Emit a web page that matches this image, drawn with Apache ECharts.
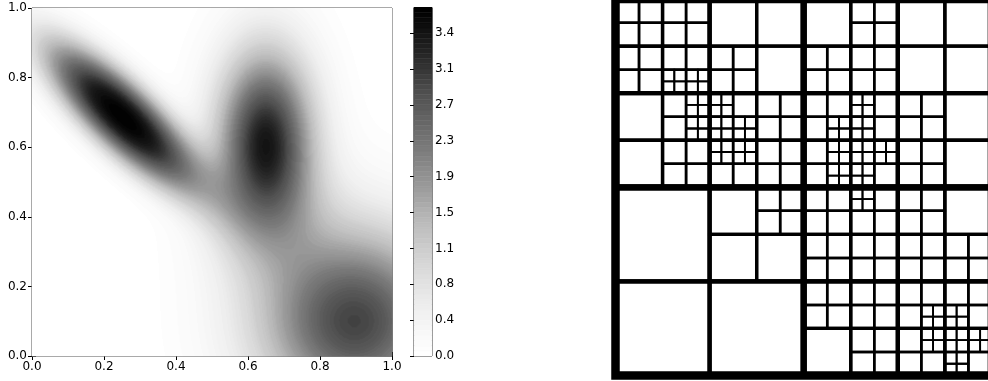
<!DOCTYPE html>
<html><head><meta charset="utf-8">
<script src="https://cdn.jsdelivr.net/npm/echarts@6/dist/echarts.min.js"></script>
<style>html,body{margin:0;padding:0;background:#fff;} #c{width:988px;height:381px;}</style>
</head><body><div id="c"></div>
<script>
// ---- density components (peak centre, height, spread, orientation, flatness) ----
const peakX        = [0.252, 0.650, 0.897, 0.650];
const peakY        = [0.688, 0.630, 0.100, 0.420];
const peakHeight   = [3.65, 3.20, 2.90, 0.55];
const sigmaMajor   = [0.220, 0.180, 0.190, 0.130];
const sigmaMinor   = [0.070, 0.095, 0.190, 0.130];
const majorAngle   = [-45, 90, 90, 0];
const peakFlatness = [1.25, 1.0, 1.0, 1.0];

// ---- contour levels / colorbar (matplotlib "Greys" colour stops) ----
const levelStep = 0.0546;
const levelCount = 68;
const greysStops = ['#ffffff','#f0f0f0','#d9d9d9','#bdbdbd','#969696','#737373','#525252','#252525','#000000'];
const cbTickEvery = 7;
const cbTickLabels = ['0.0','0.4','0.8','1.1','1.5','1.9','2.3','2.7','3.1','3.4'];
const axisTickLabels = ['0.0','0.2','0.4','0.6','0.8','1.0'];

// ---- quadtree: split nodes per level, [column, row-from-top] ----
const splitLevel0 = [[0,0]];
const splitLevel1 = [[0,0],[1,0],[0,1],[1,1]];
const splitLevel2 = [[0,0],[1,0],[2,0],[3,0],[0,1],[1,1],[2,1],[3,1],[1,2],[2,2],[3,2],[2,3],[3,3]];
const splitLevel3 = [[0,0],[1,0],[0,1],[1,1],[2,1],[1,2],[1,3],[2,2],[3,2],[2,3],[3,3],
  [5,0],[4,1],[5,1],[4,2],[5,2],[4,3],[5,3],[6,2],[6,3],[3,4],
  [4,4],[5,4],[4,5],[5,5],[6,4],[6,5],[7,5],[4,6],[5,6],[5,7],[6,6],[7,6],[6,7],[7,7]];
const splitLevel4 = [[2,3],[3,3],[3,4],[3,5],[4,4],[4,5],[5,5],[4,6],[5,6],
  [10,4],[9,5],[10,5],[9,6],[10,6],[11,6],[9,7],[10,7],
  [10,8],[13,13],[14,13],[13,14],[14,14],[15,14],[14,15]];
const treeLineWidth = [8.5, 6.2, 4.2, 3.3, 2.5, 1.8];

// ---------------------------------------------------------------
function density(x, y) {
  let v = 0;
  for (let k = 0; k < peakX.length; k++) {
    const a = majorAngle[k] * Math.PI / 180;
    const dx = x - peakX[k], dy = y - peakY[k];
    const u = dx * Math.cos(a) + dy * Math.sin(a);
    const w = -dx * Math.sin(a) + dy * Math.cos(a);
    const q = (u / sigmaMajor[k]) ** 2 + (w / sigmaMinor[k]) ** 2;
    v += peakHeight[k] * Math.exp(-0.5 * Math.pow(q, peakFlatness[k]));
  }
  return v;
}
const NX = 360, NY = 348;
const xCats = [], yCats = [];
for (let i = 0; i < NX; i++) xCats.push(i);
for (let j = 0; j < NY; j++) yCats.push(j);
const heatData = [];
for (let i = 0; i < NX; i++) {
  for (let j = 0; j < NY; j++) {
    const v = density((i + 0.5) / NX, (j + 0.5) / NY);
    const band = Math.max(0, Math.min(levelCount - 1, Math.floor(v / levelStep)));
    heatData.push([i, j, band]);
  }
}
const cbData = [];
for (let i = 0; i < levelCount; i++) cbData.push([i * levelStep, (i + 1) * levelStep, i]);
const cbTickValues = cbTickLabels.map((_, i) => i * cbTickEvery * levelStep);

const splits = [splitLevel0, splitLevel1, splitLevel2, splitLevel3, splitLevel4];
const treeData = [[0, 0, 1, 1, 0]];
splits.forEach((list, L) => {
  const n = Math.pow(2, L + 1);
  list.forEach(([c, r]) => {
    for (let dc = 0; dc < 2; dc++) for (let dr = 0; dr < 2; dr++) {
      const cc = 2 * c + dc, rr = 2 * r + dr;
      treeData.push([cc / n, 1 - (rr + 1) / n, (cc + 1) / n, 1 - rr / n, L + 1]);
    }
  });
});
treeData.sort((a, b) => b[4] - a[4]);

const font = { fontFamily: 'DejaVu Sans', fontSize: 12, color: '#000' };
const mainRect = { left: 32, top: 8, width: 360, height: 348 };
const noBounds = { containLabel: false, outerBoundsMode: 'none' };

const chart = echarts.init(document.getElementById('c'), null, { renderer: 'canvas' });
chart.setOption({
  animation: false,
  backgroundColor: '#fff',
  grid: [
    Object.assign({}, mainRect, noBounds),
    Object.assign({}, mainRect, noBounds, { show: true, borderColor: '#000', borderWidth: 1, backgroundColor: 'transparent' }),
    Object.assign({ left: 414, top: 7.5, width: 18, height: 348.5, show: true, borderColor: '#000', borderWidth: 1 }, noBounds),
    Object.assign({ left: 615.5, top: -0.9, width: 376.4, height: 376.4 }, noBounds)
  ],
  xAxis: [
    { gridIndex: 0, type: 'category', data: xCats, show: false },
    { gridIndex: 1, type: 'value', min: 0, max: 1, interval: 0.2, position: 'bottom',
      axisLine: { show: false }, splitLine: { show: false },
      axisTick: { inside: true, length: 4, lineStyle: { color: '#000' } },
      axisLabel: Object.assign({ margin: 5, formatter: (v) => axisTickLabels[Math.round(v / 0.2)] }, font) },
    { gridIndex: 1, type: 'value', min: 0, max: 1, interval: 0.2, position: 'top',
      axisLine: { show: false }, splitLine: { show: false },
      axisTick: { inside: true, length: 4, lineStyle: { color: '#000' } }, axisLabel: { show: false } },
    { gridIndex: 2, type: 'value', min: 0, max: 1, show: false },
    { gridIndex: 3, type: 'value', min: 0, max: 1, show: false }
  ],
  yAxis: [
    { gridIndex: 0, type: 'category', data: yCats, show: false },
    { gridIndex: 1, type: 'value', min: 0, max: 1, interval: 0.2, position: 'left',
      axisLine: { show: false }, splitLine: { show: false },
      axisTick: { inside: true, length: 4, lineStyle: { color: '#000' } },
      axisLabel: Object.assign({ margin: 5, formatter: (v) => axisTickLabels[Math.round(v / 0.2)] }, font) },
    { gridIndex: 1, type: 'value', min: 0, max: 1, interval: 0.2, position: 'right',
      axisLine: { show: false }, splitLine: { show: false },
      axisTick: { inside: true, length: 4, lineStyle: { color: '#000' } }, axisLabel: { show: false } },
    { gridIndex: 2, type: 'value', min: 0, max: levelCount * levelStep, position: 'right',
      axisLine: { show: false }, splitLine: { show: false },
      axisTick: { inside: true, length: 4, customValues: cbTickValues, lineStyle: { color: '#000' } },
      axisLabel: Object.assign({ margin: 3, customValues: cbTickValues,
        formatter: (v) => { const i = Math.round(v / (cbTickEvery * levelStep)); return cbTickLabels[i] || ''; } }, font) },
    { gridIndex: 3, type: 'value', min: 0, max: 1, show: false }
  ],
  visualMap: {
    type: 'continuous', show: false, seriesIndex: [0, 1], dimension: 2,
    min: 0, max: levelCount - 1, inRange: { color: greysStops }
  },
  series: [
    { type: 'heatmap', xAxisIndex: 0, yAxisIndex: 0, data: heatData, progressive: 0,
      itemStyle: { borderWidth: 0 }, emphasis: { disabled: true } },
    { type: 'custom', xAxisIndex: 3, yAxisIndex: 3, data: cbData, silent: true,
      renderItem: (params, api) => {
        const p0 = api.coord([0, api.value(1)]);
        const p1 = api.coord([1, api.value(0)]);
        const col = api.visual('color');
        return { type: 'rect', shape: { x: p0[0], y: p0[1], width: p1[0] - p0[0], height: p1[1] - p0[1] },
          style: { fill: col, stroke: col, lineWidth: 0.5 } };
      } },
    { type: 'custom', xAxisIndex: 4, yAxisIndex: 4, data: treeData, silent: true, clip: false,
      renderItem: (params, api) => {
        const p0 = api.coord([api.value(0), api.value(3)]);
        const p1 = api.coord([api.value(2), api.value(1)]);
        return { type: 'rect', shape: { x: p0[0], y: p0[1], width: p1[0] - p0[0], height: p1[1] - p0[1] },
          style: { fill: null, stroke: '#000', lineWidth: treeLineWidth[api.value(4)] } };
      } }
  ]
});
</script></body></html>
